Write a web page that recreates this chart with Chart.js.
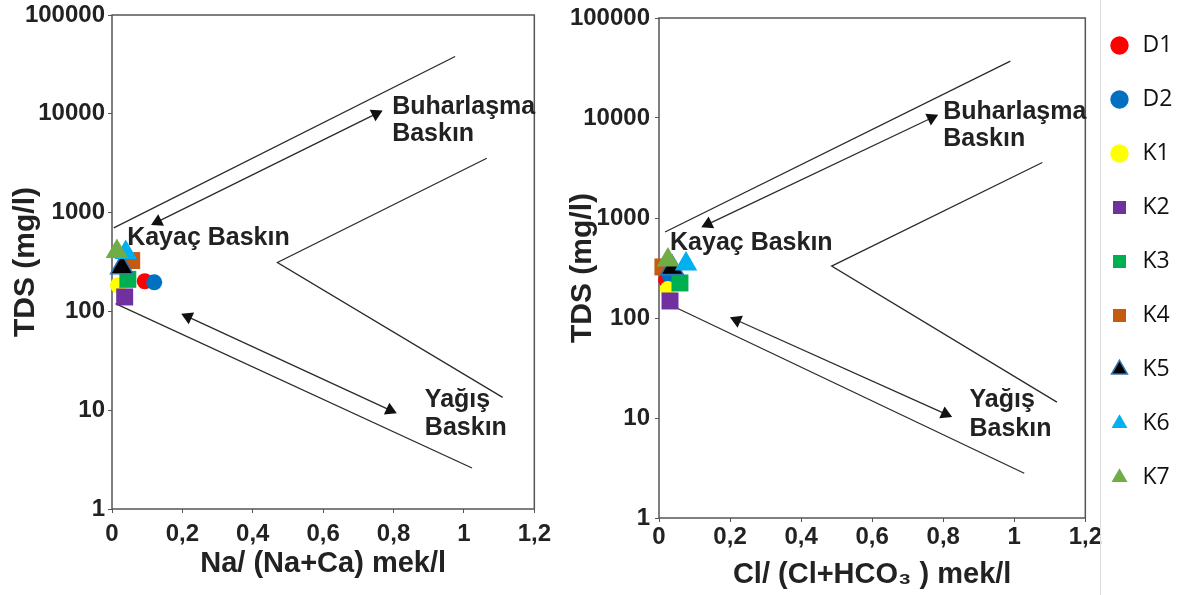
<!DOCTYPE html>
<html>
<head>
<meta charset="utf-8">
<script src="https://cdn.jsdelivr.net/npm/chart.js@4.4.1/dist/chart.umd.min.js"></script>
<style>
  html, body { margin: 0; padding: 0; background: #fff; }
  #wrap { position: relative; width: 1187px; height: 595px; overflow: hidden; }
  canvas { position: absolute; top: 0; }
  #naChart { left: 0; }
  #clChart { left: 560px; }
  #legendChart { left: 1077px; }
  #sep { position: absolute; left: 1100px; top: 0; width: 1px; height: 595px; background: #dcdcdc; }
</style>
</head>
<body>
<div id="wrap">
  <canvas id="naChart" width="560" height="595"></canvas>
  <canvas id="clChart" width="545" height="595"></canvas>
  <div id="sep"></div>
  <canvas id="legendChart" width="110" height="595"></canvas>
</div>
<script>
// samples (same order in both panels)
const samples = ['D1', 'D2', 'K1', 'K2', 'K3', 'K4', 'K5', 'K6', 'K7'];

// Na/(Na+Ca) panel
const naRatio = [0.093, 0.12, 0.017, 0.036, 0.045, 0.056, 0.028, 0.039, 0.014];
const naTds   = [202, 197, 184, 140, 211, 327, 279, 394, 403];

// Cl/(Cl+HCO3) panel
const clRatio = [0.02, 0.031, 0.025, 0.031, 0.059, 0.011, 0.037, 0.076, 0.025];
const clTds   = [240, 263, 195, 148, 224, 324, 316, 347, 380];

// Gibbs boundary lines and arrows, [ratio, tds]
const naUpper     = [[0.005, 700], [0.975, 38000]];
const naEvapArrow = [[0.13, 810], [0.75, 10000]];
const naBend      = [[1.065, 3550], [0.47, 313], [1.11, 13.5]];
const naLower     = [[0.01, 120], [1.023, 2.6]];
const naRainArrow = [[0.216, 88], [0.79, 10]];

const clUpper     = [[0.017, 724], [0.989, 37000]];
const clEvapArrow = [[0.138, 870], [0.767, 10000]];
const clBend      = [[1.079, 3590], [0.486, 330], [1.12, 14.4]];
const clLower     = [[0.05, 126], [1.028, 2.8]];
const clRainArrow = [[0.219, 95], [0.806, 11]];

// text labels inside the panels: [text, ratio, tds]
const naNotes = [['Buharlaşma', 0.796, 11800], ['Baskın', 0.796, 6300], ['Kayaç Baskın', 0.043, 556],
                 ['Yağış', 0.889, 12.6], ['Baskın', 0.889, 6.6]];
const clNotes = [['Buharlaşma', 0.80, 11500], ['Baskın', 0.80, 6170], ['Kayaç Baskın', 0.031, 562],
                 ['Yağış', 0.874, 15.1], ['Baskın', 0.874, 7.8]];

// ticks
const xTickLabels = ['0', '0,2', '0,4', '0,6', '0,8', '1', '1,2'];
const yTickValues = [1, 10, 100, 1000, 10000, 100000];
const yTickLabels = ['1', '10', '100', '1000', '10000', '100000'];

// marker styles
const colors  = ['#ff0000', '#0070c0', '#ffff00', '#7030a0', '#00b050', '#c55a11', '#000000', '#00b0f0', '#70ad47'];
const borders = ['#ff0000', '#0070c0', '#ffff00', '#7030a0', '#00b050', '#c55a11', '#2e75b6', '#00b0f0', '#70ad47'];
const shapes  = ['circle', 'circle', 'circle', 'rect', 'rect', 'rect', 'triangle', 'triangle', 'triangle'];
const radii   = [8, 8, 8, 12, 12, 12, 13, 13, 13];

Chart.defaults.font.family = '"Liberation Sans", Arial, Helvetica, sans-serif';
Chart.defaults.color = '#222';

const toXY = pts => pts.map(p => ({ x: p[0], y: p[1] }));

// point the arrow heads along their line, away from the other end
function headAngle(ctx) {
  const d = ctx.dataset.data;
  const i = ctx.dataIndex;
  const from = d[i === 0 ? 1 : 0], to = d[i];
  const sx = ctx.chart.scales.x, sy = ctx.chart.scales.y;
  const dx = sx.getPixelForValue(to.x) - sx.getPixelForValue(from.x);
  const dy = sy.getPixelForValue(to.y) - sy.getPixelForValue(from.y);
  return Math.atan2(dx, -dy) * 180 / Math.PI;
}

const framePlugin = {
  id: 'frame',
  beforeDatasetsDraw(chart) {
    const { ctx, chartArea: a } = chart;
    ctx.save();
    ctx.strokeStyle = '#555';
    ctx.lineWidth = 1.5;
    ctx.strokeRect(a.left, a.top, a.right - a.left, a.bottom - a.top);
    ctx.restore();
  }
};

function notesPlugin(notes) {
  return {
    id: 'notes',
    afterDatasetsDraw(chart) {
      const { ctx, scales: { x, y } } = chart;
      ctx.save();
      ctx.font = 'bold 25px "Liberation Sans", Arial, sans-serif';
      ctx.fillStyle = '#222';
      ctx.textBaseline = 'middle';
      notes.forEach(([text, vx, vy]) => ctx.fillText(text, x.getPixelForValue(vx), y.getPixelForValue(vy)));
      ctx.restore();
    }
  };
}

function buildPanel(id, ratios, tds, lines, arrows, notes, g) {
  const sampleSets = samples.map((name, i) => ({
    label: name,
    data: [{ x: ratios[i], y: tds[i] }],
    pointStyle: shapes[i],
    pointRadius: radii[i],
    pointHoverRadius: radii[i],
    backgroundColor: colors[i],
    borderColor: borders[i],
    borderWidth: i === 6 ? 1.5 : 0,
    clip: false,
    order: samples.length - i
  }));
  const lineSets = lines.map(pts => ({
    data: toXY(pts),
    showLine: true,
    pointRadius: 0,
    borderColor: '#2b2b2b',
    borderWidth: 1.3,
    order: 50
  }));
  const arrowSets = arrows.map(pts => ({
    data: toXY(pts),
    showLine: true,
    borderColor: '#2b2b2b',
    borderWidth: 1.3,
    pointStyle: 'triangle',
    pointRadius: 7.5,
    pointHoverRadius: 7.5,
    pointBackgroundColor: '#111',
    pointBorderWidth: 0,
    pointRotation: headAngle,
    order: 40
  }));

  return new Chart(document.getElementById(id), {
    type: 'scatter',
    data: { datasets: [...lineSets, ...arrowSets, ...sampleSets] },
    options: {
      responsive: false,
      animation: false,
      events: [],
      layout: { padding: { left: 0, top: g.padTop, right: g.padRight, bottom: 0 } },
      scales: {
        x: {
          type: 'linear',
          min: 0,
          max: 1.2,
          afterFit: s => { s.height = g.xHeight; },
          ticks: {
            stepSize: 0.2,
            maxRotation: 0,
            autoSkip: false,
            padding: g.xTickPad,
            color: '#222',
            font: { size: 24, weight: 'bold', lineHeight: 1 },
            callback: (v, i) => xTickLabels[i]
          },
          grid: { drawOnChartArea: false, tickLength: 4, tickColor: '#555' },
          border: { display: false },
          title: {
            display: true,
            text: g.xTitle,
            color: '#222',
            font: { size: 29, weight: 'bold' },
            padding: { top: 0, bottom: g.xTitlePad }
          }
        },
        y: {
          type: 'logarithmic',
          min: 1,
          max: 100000,
          afterFit: s => { s.width = g.yWidth; },
          afterBuildTicks: s => { s.ticks = yTickValues.map(v => ({ value: v })); },
          ticks: {
            autoSkip: false,
            padding: g.yTickPad,
            color: '#222',
            font: { size: 24, weight: 'bold', lineHeight: 1 },
            callback: (v, i) => yTickLabels[i]
          },
          grid: { drawOnChartArea: false, tickLength: 4, tickColor: '#555' },
          border: { display: false },
          title: {
            display: true,
            text: 'TDS (mg/l)',
            color: '#222',
            font: { size: 30, weight: 'bold' },
            padding: { top: g.yTitlePad, bottom: 0 }
          }
        }
      },
      plugins: { legend: { display: false }, tooltip: { enabled: false } }
    },
    plugins: [framePlugin, notesPlugin(notes)]
  });
}

buildPanel('naChart', naRatio, naTds,
  [naUpper, naBend, naLower], [naEvapArrow, naRainArrow], naNotes,
  { padTop: 11, padRight: 20, yWidth: 112, xHeight: 86, yTickPad: 3, xTickPad: 9,
    yTitlePad: 8, xTitlePad: 14, xTitle: 'Na/ (Na+Ca) mek/l' });

buildPanel('clChart', clRatio, clTds,
  [clUpper, clBend, clLower], [clEvapArrow, clRainArrow], clNotes,
  { padTop: 18, padRight: 18, yWidth: 99, xHeight: 77, yTickPad: 5, xTickPad: 3,
    yTitlePad: 5, xTitlePad: 3, xTitle: 'Cl/ (Cl+HCO₃ ) mek/l' });

// shared legend on the right
new Chart(document.getElementById('legendChart'), {
  type: 'scatter',
  data: {
    datasets: samples.map((name, i) => ({
      label: name,
      data: [],
      pointStyle: shapes[i],
      backgroundColor: colors[i],
      borderColor: borders[i],
      borderWidth: i === 6 ? 1.5 : 0
    }))
  },
  options: {
    responsive: false,
    animation: false,
    events: [],
    layout: { padding: { top: 3 } },
    scales: { x: { display: false }, y: { display: false } },
    plugins: {
      tooltip: { enabled: false },
      legend: {
        position: 'left',
        align: 'start',
        maxWidth: 110,
        labels: {
          usePointStyle: true,
          boxHeight: 13,
          padding: 31,
          color: '#111',
          font: { size: 23, family: '"Open Sans", "Noto Sans", sans-serif' }
        }
      }
    }
  }
});
</script>
</body>
</html>
